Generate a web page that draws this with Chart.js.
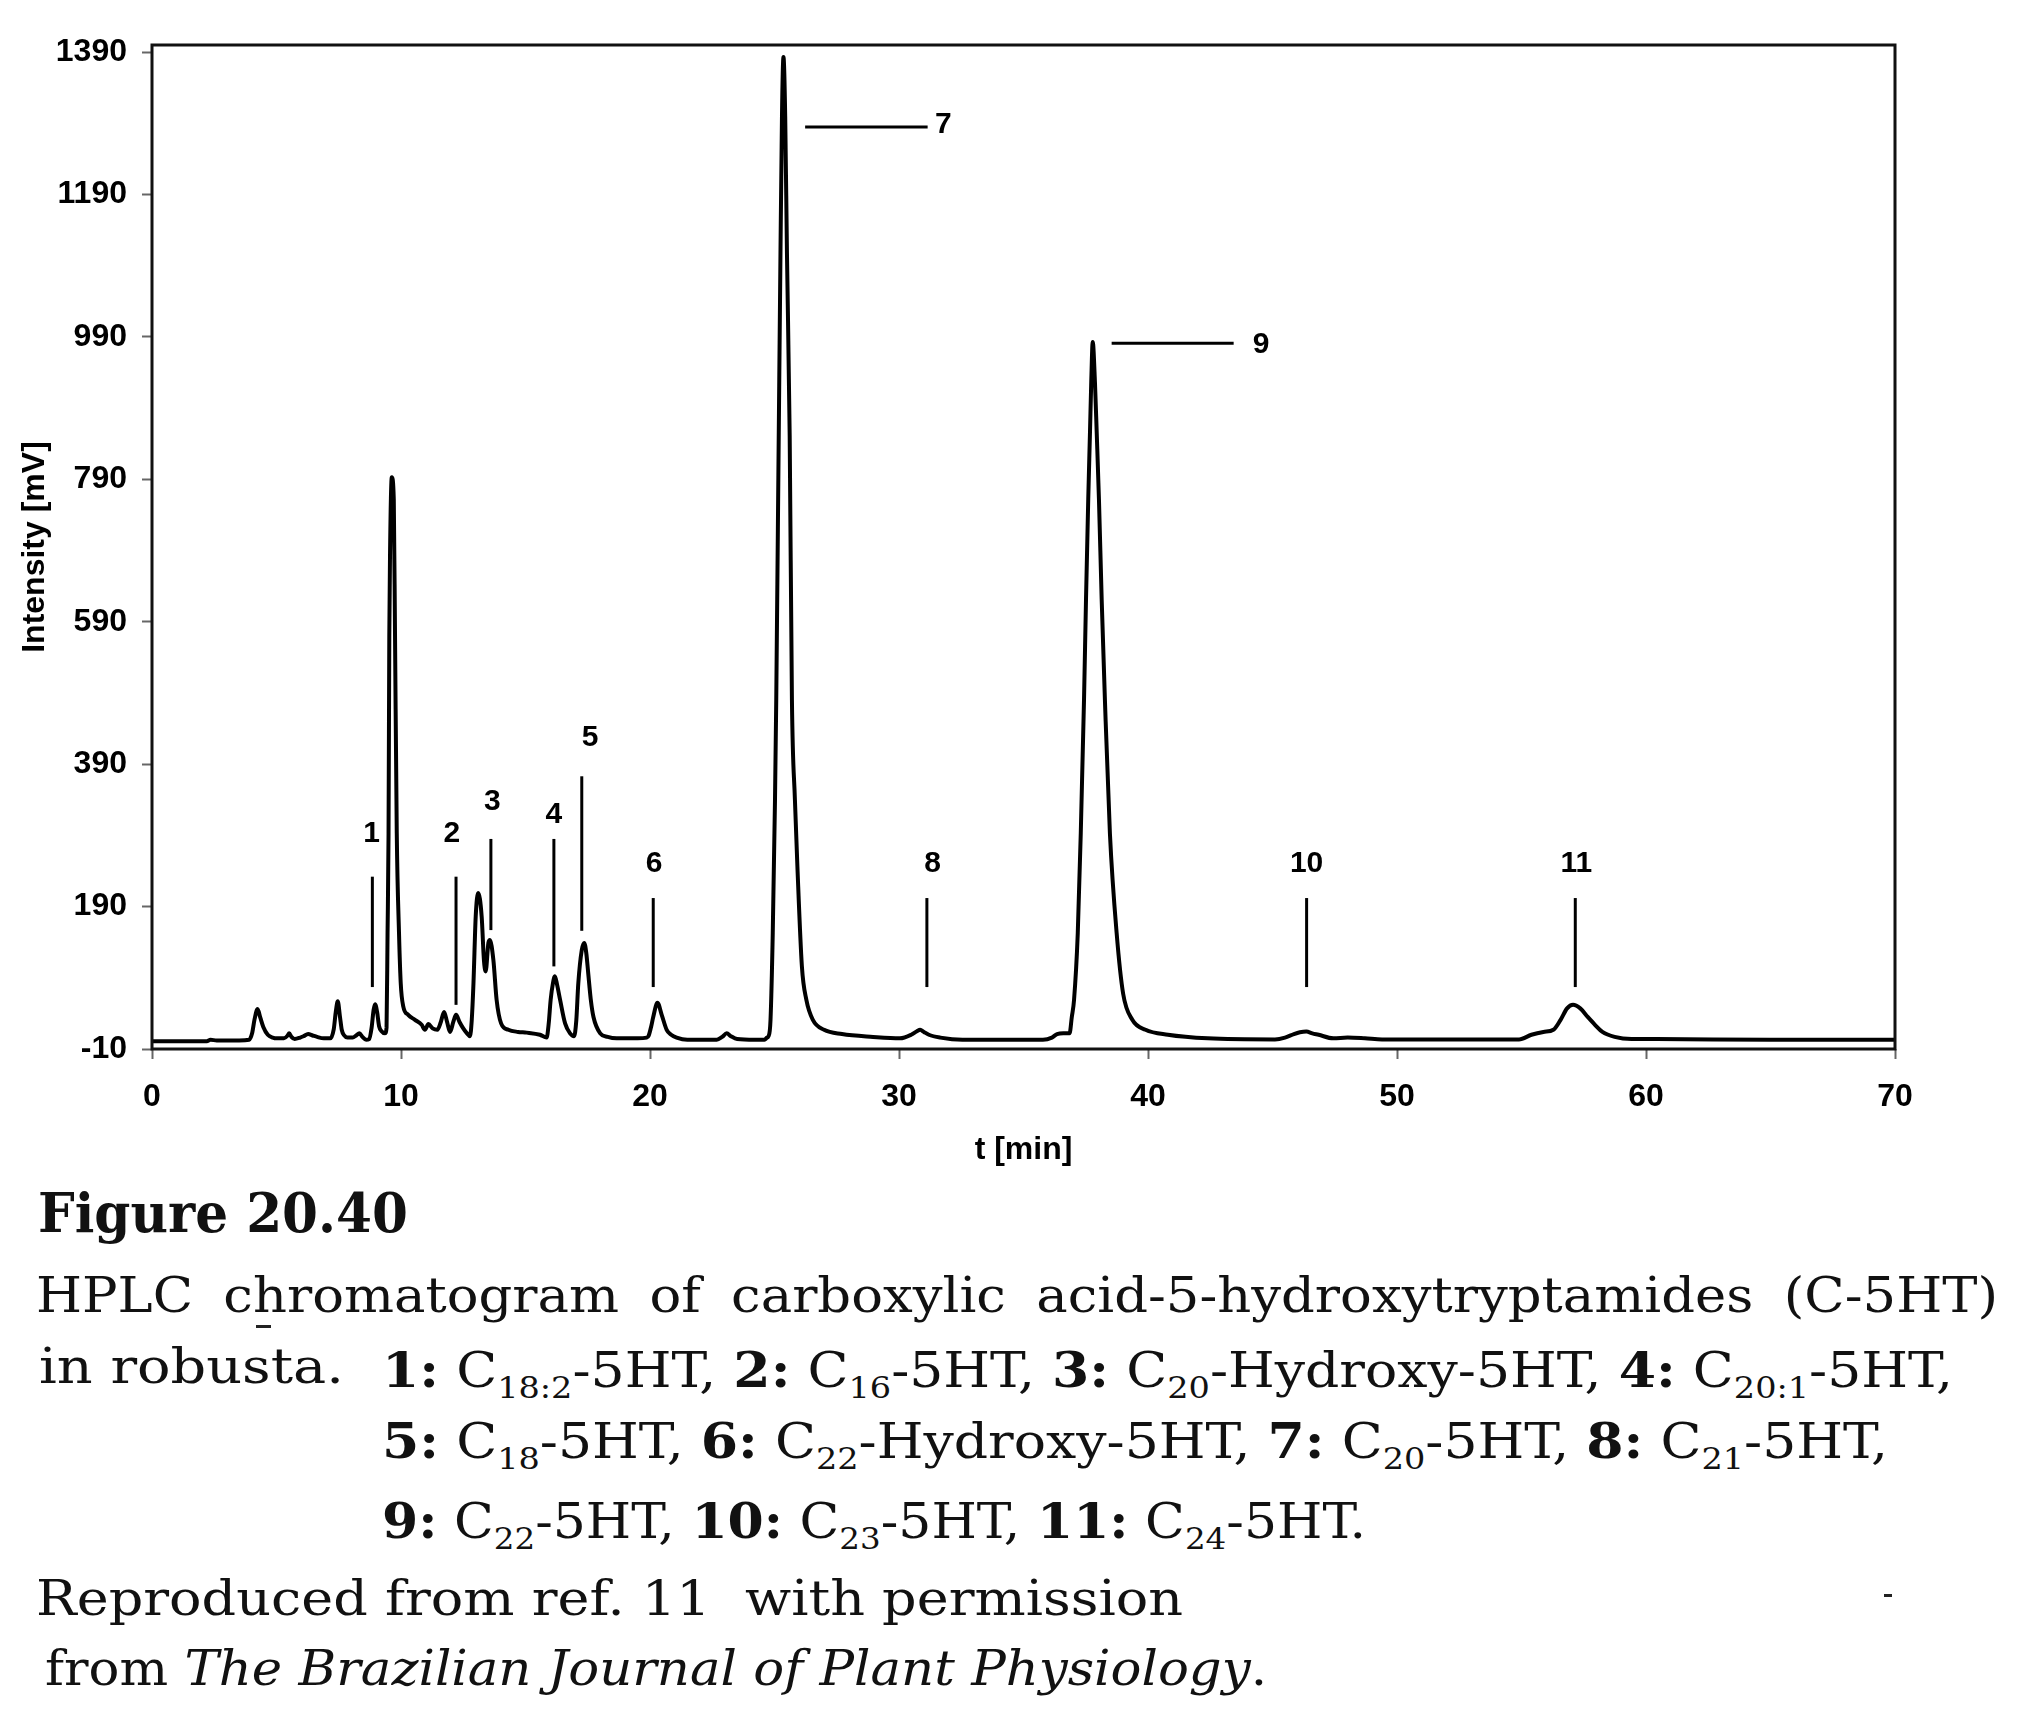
<!DOCTYPE html>
<html>
<head>
<meta charset="utf-8">
<script src="https://cdn.jsdelivr.net/npm/chart.js@4.4.1/dist/chart.umd.min.js"></script>
<style>
  html, body { margin: 0; padding: 0; background: #fff; }
  body { width: 2017px; height: 1722px; position: relative; overflow: hidden; }
  #chart { position: absolute; left: 0; top: 0; }
  .cap { position: absolute; white-space: nowrap; font-family: "DejaVu Serif", serif; font-size: 48px; color: #111; line-height: 1.2; }
  .cap b { font-weight: bold; }
  .cap .s { font-size: 30px; position: relative; top: 11px; }
  .head { font-size: 55px; font-weight: bold; }
  .mark { position: absolute; background: #222; }
</style>
</head>
<body>
<canvas id="chart" width="2017" height="1180"></canvas>

<div class="cap head" id="l0">Figure 20.40</div>
<div class="cap" id="l1">HPLC chromatogram of carboxylic acid-5-hydroxytryptamides (C-5HT)</div>
<div class="cap" id="l2a">in robusta.</div>
<div class="cap" id="l2b"><b>1:</b> C<span class="s">18:2</span>-5HT, <b>2:</b> C<span class="s">16</span>-5HT, <b>3:</b> C<span class="s">20</span>-Hydroxy-5HT, <b>4:</b> C<span class="s">20:1</span>-5HT,</div>
<div class="cap" id="l3"><b>5:</b> C<span class="s">18</span>-5HT, <b>6:</b> C<span class="s">22</span>-Hydroxy-5HT, <b>7:</b> C<span class="s">20</span>-5HT, <b>8:</b> C<span class="s">21</span>-5HT,</div>
<div class="cap" id="l4"><b>9:</b> C<span class="s">22</span>-5HT, <b>10:</b> C<span class="s">23</span>-5HT, <b>11:</b> C<span class="s">24</span>-5HT.</div>
<div class="cap" id="l5">Reproduced from ref. 11&nbsp; with permission</div>
<div class="cap" id="l6">from <i>The Brazilian Journal of Plant Physiology</i>.</div>
<div class="mark" style="left:256px;top:1325px;width:15px;height:3px;"></div>
<div class="mark" style="left:1884px;top:1594px;width:8px;height:3px;"></div>

<script>
// ---------------- data ----------------
const timeMin = [
  0.0, 1.0, 2.2, 2.35, 2.6, 3.5, 3.9, 4.02, 4.12, 4.24, 4.35, 4.47, 4.65, 4.85, 5.01, 5.3, 5.45, 5.51, 5.6, 5.73,
  5.95, 6.09, 6.27, 6.45, 6.63, 6.9, 7.16, 7.3, 7.38, 7.46, 7.55, 7.62, 7.72, 7.85, 8.06, 8.2, 8.33, 8.45, 8.6, 8.72,
  8.82, 8.9, 8.96, 9.04, 9.12, 9.22, 9.36, 9.42, 9.46, 9.50, 9.53, 9.56, 9.63, 9.71, 9.76, 9.83, 9.92, 9.99, 10.09, 10.29,
  10.56, 10.83, 10.96, 11.1, 11.27, 11.46, 11.6, 11.73, 11.85, 11.97, 12.1, 12.21, 12.35, 12.5, 12.65, 12.77, 12.84, 12.91, 13.0, 13.1,
  13.24, 13.33, 13.4, 13.51, 13.57, 13.71, 13.84, 14.02, 14.31, 14.7, 15.05, 15.58, 15.85, 15.93, 16.01, 16.1, 16.18, 16.27, 16.39, 16.59,
  16.79, 16.95, 17.04, 17.12, 17.26, 17.36, 17.44, 17.52, 17.62, 17.73, 18.0, 18.3, 18.66, 19.5, 19.87, 19.95, 20.05, 20.13, 20.3, 20.47,
  20.67, 20.85, 21.07, 21.5, 22.68, 22.9, 23.08, 23.25, 23.5, 24.2, 24.6, 24.7, 24.76, 24.84, 24.93, 25.02, 25.07, 25.17, 25.24, 25.30,
  25.36, 25.43, 25.50, 25.61, 25.70, 25.82, 25.92, 26.10, 26.28, 26.54, 26.99, 27.71, 28.96, 30.04, 30.49, 30.72, 30.85, 31.0, 31.2, 31.66,
  32.55, 35.78, 36.14, 36.35, 36.6, 36.85, 36.94, 37.03, 37.18, 37.30, 37.43, 37.51, 37.60, 37.67, 37.72, 37.78, 37.87, 37.94, 38.03, 38.14,
  38.27, 38.47, 38.74, 39.0, 39.37, 39.9, 40.8, 42.4, 45.1, 45.5, 45.86, 46.1, 46.36, 46.6, 46.85, 47.44, 48.02, 48.71, 49.4, 54.9,
  55.4, 55.88, 56.28, 56.57, 56.83, 57.07, 57.36, 57.66, 57.95, 58.25, 58.74, 59.42, 60.4, 65.0, 70.0
];
const intensity = [
  1, 1, 1, 3, 2, 2, 3, 12, 32, 46, 34, 21, 10, 6, 5, 5, 9, 12, 7, 4,
  6, 8, 11, 9, 7, 5, 5, 18, 42, 57, 35, 17, 9, 6, 6, 9, 12, 7, 3, 4,
  20, 45, 53, 42, 22, 15, 12, 20, 153, 293, 570, 687, 793, 762, 570, 293, 153, 82, 50, 38,
  31, 24, 17, 25, 19, 17, 28, 42, 28, 14, 28, 38, 28, 19, 12, 8, 30, 82, 176, 209,
  176, 115, 99, 139, 143, 115, 59, 26, 17, 14, 13, 10, 6, 25, 59, 82, 92, 80, 59, 26,
  12, 8, 30, 82, 129, 139, 125, 96, 60, 35, 12, 7, 5, 5, 6, 9, 22, 35, 55, 38,
  17, 10, 6, 3, 3, 7, 12, 8, 4, 3, 3, 6, 8, 31, 153, 340, 480, 851, 1108, 1300,
  1383, 1300, 1108, 851, 480, 340, 246, 106, 59, 31, 17, 11, 7, 5, 10, 15, 17, 14, 10, 6,
  3, 3, 6, 11, 12, 12, 35, 59, 153, 293, 480, 621, 762, 856, 926, 983, 926, 856, 762, 621,
  480, 293, 153, 68, 31, 17, 10, 5, 3.5, 6, 11, 13.5, 14.5, 12, 10, 5, 6, 5, 3.5, 3.5,
  10, 14, 17, 31, 47, 52, 47, 35, 24, 14, 7, 4, 4, 3, 3
];

// axis ticks
const xTicks = [0, 10, 20, 30, 40, 50, 60, 70];
const yTicks = [-10, 190, 390, 590, 790, 990, 1190, 1390];
const xTitle = 't [min]';
const yTitle = 'Intensity [mV]';

// peak markers (vertical bars with numbers above)
const peakLabels    = ['1', '2', '3', '4', '5', '6', '8', '10', '11'];
const peakLineTime  = [8.85, 12.21, 13.61, 16.14, 17.26, 20.13, 31.12, 46.37, 57.16];
const peakLineFrom  = [77, 52, 157, 106, 156, 77, 77, 77, 77];
const peakLineTo    = [232, 232, 285, 285, 373, 202, 202, 202, 202];
const peakLabelTime = [8.82, 12.04, 13.67, 16.14, 17.59, 20.16, 31.35, 46.37, 57.2];
const peakLabelVal  = [294, 294, 338, 321, 429, 251, 251, 251, 251];

// side markers (horizontal bars with numbers to the right)
const sideLabels     = ['7', '9'];
const sideLineStart  = [26.23, 38.54];
const sideLineEnd    = [31.15, 43.44];
const sideLineVal    = [1285, 981];
const sideLabelTime  = [31.78, 44.54];
const sideLabelVal   = [1290, 980];

// ---------------- chart ----------------
const tickFont = { family: 'Liberation Sans, Arial, sans-serif', size: 32, weight: 'bold' };

const framePlugin = {
  id: 'frame',
  afterDraw(chart) {
    const { ctx, chartArea: a, scales: { x, y } } = chart;
    ctx.save();
    ctx.strokeStyle = '#000';
    ctx.fillStyle = '#000';
    ctx.lineWidth = 3;
    ctx.font = 'bold 30px "Liberation Sans", Arial, sans-serif';
    ctx.textAlign = 'center';
    ctx.textBaseline = 'middle';
    peakLabels.forEach((lab, i) => {
      const px = x.getPixelForValue(peakLineTime[i]);
      ctx.beginPath();
      ctx.moveTo(px, y.getPixelForValue(peakLineTo[i]));
      ctx.lineTo(px, y.getPixelForValue(peakLineFrom[i]));
      ctx.stroke();
      ctx.fillText(lab, x.getPixelForValue(peakLabelTime[i]), y.getPixelForValue(peakLabelVal[i]) + 1);
    });
    sideLabels.forEach((lab, i) => {
      const py = y.getPixelForValue(sideLineVal[i]);
      ctx.beginPath();
      ctx.moveTo(x.getPixelForValue(sideLineStart[i]), py);
      ctx.lineTo(x.getPixelForValue(sideLineEnd[i]), py);
      ctx.stroke();
      ctx.fillText(lab, x.getPixelForValue(sideLabelTime[i]), y.getPixelForValue(sideLabelVal[i]) + 1);
    });
    ctx.lineWidth = 3;
    ctx.strokeStyle = '#111';
    ctx.strokeRect(a.left, a.top, a.right - a.left, a.bottom - a.top);
    ctx.restore();
  }
};

new Chart(document.getElementById('chart'), {
  type: 'line',
  data: {
    datasets: [{
      data: timeMin.map((t, i) => ({ x: t, y: intensity[i] })),
      borderColor: '#000',
      borderWidth: 4,
      pointRadius: 0,
      fill: false,
      cubicInterpolationMode: 'monotone'
    }]
  },
  options: {
    responsive: false,
    animation: false,
    devicePixelRatio: 1,
    layout: { padding: { left: 0, top: 45, right: 122, bottom: 0 } },
    plugins: { legend: { display: false }, tooltip: { enabled: false } },
    scales: {
      x: {
        type: 'linear', min: 0, max: 70,
        afterBuildTicks: s => { s.ticks = xTicks.map(v => ({ value: v })); },
        afterFit: s => { s.height = 131; },
        ticks: { font: tickFont, color: '#000', padding: 19, maxRotation: 0, autoSkip: false, callback: v => String(v) },
        grid: { drawOnChartArea: false, drawTicks: true, tickLength: 10, tickColor: '#666', tickWidth: 2 },
        border: { display: false },
        title: { display: true, text: xTitle, font: tickFont, color: '#000', padding: { top: 0, bottom: 11 } }
      },
      y: {
        type: 'linear', min: -10, max: 1400,
        afterBuildTicks: s => { s.ticks = yTicks.map(v => ({ value: v })); },
        afterFit: s => { s.width = 152; },
        ticks: { font: tickFont, color: '#000', padding: 15, autoSkip: false, callback: v => String(v) },
        grid: { drawOnChartArea: false, drawTicks: true, tickLength: 10, tickColor: '#666', tickWidth: 2 },
        border: { display: false },
        title: { display: true, text: yTitle, font: tickFont, color: '#000', padding: { top: 16, bottom: 0 } }
      }
    }
  },
  plugins: [framePlugin]
});

// ---------------- caption placement ----------------
function place(id, left, baseline, targetW, mode, glyphScale) {
  const el = document.getElementById(id);
  el.style.left = left + 'px';
  el.style.top = '0px';
  const probe = document.createElement('span');
  probe.style.cssText = 'display:inline-block;width:0;height:0;vertical-align:baseline';
  el.insertBefore(probe, el.firstChild);
  const off = probe.getBoundingClientRect().top - el.getBoundingClientRect().top;
  el.style.top = (baseline - off) + 'px';
  if (targetW) {
    const w = el.getBoundingClientRect().width;
    el.style.transformOrigin = '0 0';
    if (mode === 'word') {
      const k = glyphScale || 1;
      const n = (el.textContent.match(/[ \u00a0]/g) || []).length;
      el.style.wordSpacing = ((targetW / k - w) / n) + 'px';
      el.style.transform = 'scaleX(' + k + ')';
    } else {
      el.style.transform = 'scaleX(' + (targetW / w) + ')';
    }
  }
}
place('l0', 38, 1232, 370, 'scale');
place('l1', 36, 1312, 1962, 'word', 1.1);
place('l2a', 39, 1383, 305, 'scale');
place('l2b', 382, 1387, 1571, 'scale');
place('l3', 382, 1458, 1506, 'scale');
place('l4', 382, 1538, 984, 'scale');
place('l5', 36, 1615, 1147, 'scale');
place('l6', 45, 1685, 1222, 'scale');
</script>
</body>
</html>
